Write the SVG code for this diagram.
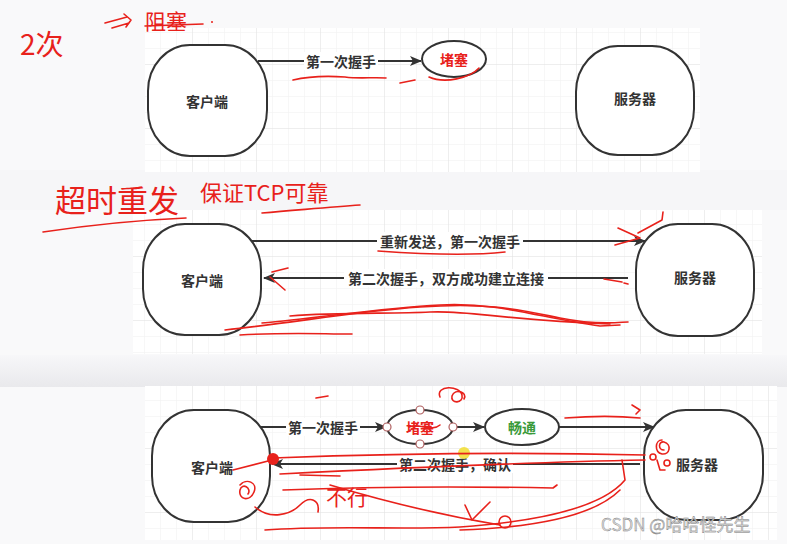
<svg xmlns="http://www.w3.org/2000/svg" width="787" height="544" viewBox="0 0 787 544">
<defs>
<pattern id="gridMinor" width="16" height="16" patternUnits="userSpaceOnUse">
<path d="M16 0H0V16" fill="none" stroke="#efefef" stroke-width="1"/>
</pattern>
<pattern id="gridMajor" width="64" height="64" patternUnits="userSpaceOnUse">
<rect width="64" height="64" fill="url(#gridMinor)"/>
<path d="M64 0H0V64" fill="none" stroke="#e3e3e3" stroke-width="1"/>
</pattern>
<marker id="arrow" markerWidth="12" markerHeight="10" refX="11" refY="5" orient="auto" markerUnits="userSpaceOnUse">
<path d="M0,0 L12,5 L0,10 L3,5 Z" fill="#333"/>
</marker>
<linearGradient id="band" x1="0" y1="0" x2="0" y2="1">
<stop offset="0" stop-color="#f7f7f9"/>
<stop offset="1" stop-color="#e9e9ec"/>
</linearGradient>
</defs>
<style>
.node{fill:#fff;stroke:#333;stroke-width:2}
.edge{fill:none;stroke:#333;stroke-width:2}
.t{font-family:"Noto Sans CJK SC","Liberation Sans",sans-serif;font-size:14px;font-weight:bold;fill:#333;text-anchor:middle;dominant-baseline:central}
.lbl{fill:#fff}
.red{fill:none;stroke:#e8211b;stroke-width:1.6;stroke-linecap:round;stroke-linejoin:round}
.hw{font-family:"Noto Sans CJK SC",sans-serif;fill:#e8211b;font-weight:normal}
.handle{fill:#fff;stroke:#b06060;stroke-width:1.2}
</style>

<!-- background -->
<rect width="787" height="544" fill="#f9f9fa"/>
<rect x="0" y="355" width="787" height="32" fill="url(#band)"/>
<rect x="0" y="170" width="787" height="40" fill="#f6f6f8"/>

<!-- grid panels -->
<rect x="145" y="28" width="555" height="144" fill="#fff"/>
<rect x="145" y="28" width="555" height="144" fill="url(#gridMajor)"/>
<rect x="133" y="210" width="629" height="144" fill="#fff"/>
<rect x="133" y="210" width="629" height="144" fill="url(#gridMajor)"/>
<rect x="145" y="386" width="632" height="154" fill="#fff"/>
<rect x="145" y="386" width="632" height="154" fill="url(#gridMajor)"/>

<!-- connectors -->
<g id="connectors">
<path class="edge" d="M258 61 H421" marker-end="url(#arrow)"/>
<path class="edge" d="M252 241 H645" marker-end="url(#arrow)"/>
<path class="edge" d="M628 278 H264" marker-end="url(#arrow)"/>
<path class="edge" d="M260 427 H386" marker-end="url(#arrow)"/>
<path class="edge" d="M453 427 H484" marker-end="url(#arrow)"/>
<path class="edge" d="M559 427 H654" marker-end="url(#arrow)"/>
<path class="edge" d="M640 464 H272" marker-end="url(#arrow)"/>
<rect class="lbl" x="304" y="52" width="74" height="18"/>
<text class="t" x="341" y="61">第一次握手</text>
<rect class="lbl" x="377" y="232" width="146" height="18"/>
<text class="t" x="450" y="241">重新发送，第一次握手</text>
<rect class="lbl" x="344" y="269" width="204" height="18"/>
<text class="t" x="446" y="278">第二次握手，双方成功建立连接</text>
<rect class="lbl" x="286" y="418" width="74" height="18"/>
<text class="t" x="323" y="427">第一次握手</text>
<rect class="lbl" x="397" y="455" width="116" height="18"/>
<text class="t" x="455" y="464">第二次握手，确认</text>
</g>

<!-- panel 1 nodes -->
<g id="client1"><rect class="node" x="148" y="45" width="119" height="111" rx="42" ry="46"/><text class="t" x="207" y="101">客户端</text></g>
<g id="block1"><ellipse class="node" cx="454" cy="59" rx="32" ry="18"/><text class="t" x="454" y="59" style="fill:#e8211b">堵塞</text></g>
<g id="server1"><rect class="node" x="576" y="46" width="118" height="109" rx="42" ry="46"/><text class="t" x="635" y="98">服务器</text></g>

<!-- panel 2 nodes -->
<g id="client2"><rect class="node" x="143" y="224" width="118" height="111" rx="42" ry="46"/><text class="t" x="202" y="280">客户端</text></g>
<g id="server2"><rect class="node" x="636" y="224" width="118" height="112" rx="42" ry="46"/><text class="t" x="695" y="277">服务器</text></g>

<!-- panel 3 nodes -->
<g id="client3"><rect class="node" x="152" y="410" width="118" height="112" rx="42" ry="46"/><text class="t" x="212" y="467">客户端</text></g>
<g id="block3"><ellipse class="node" cx="420" cy="427" rx="33" ry="17"/><text class="t" x="420" y="427" style="fill:#e8211b">堵塞</text>
<circle class="handle" cx="387" cy="427" r="4"/><circle class="handle" cx="453" cy="427" r="4"/><circle class="handle" cx="420" cy="410" r="4"/><circle class="handle" cx="420" cy="444" r="4"/></g>
<g id="smooth3"><ellipse class="node" cx="522" cy="427" rx="37" ry="18"/><text class="t" x="522" y="427" style="fill:#3a9a3a">畅通</text></g>
<g id="server3"><rect class="node" x="644" y="410" width="119" height="110" rx="42" ry="46"/><text class="t" x="697" y="464">服务器</text></g>

<!-- cursor highlight -->
<circle cx="464" cy="453" r="6" fill="#f2df3a" opacity="0.9"/>

<!-- handwritten annotations -->
<g id="annotations">
<text class="hw" x="20" y="55" font-size="28">2次</text>
<path class="red" d="M105 23 L127 17 M112 28 L129 23 M124 14 L131 20 L126 27"/>
<text class="hw" x="145" y="29" font-size="21">阻塞</text>
<path class="red" d="M145 26 L203 24"/>
<circle cx="212" cy="22" r="1" fill="#e8211b"/>
<path class="red" d="M293 80 C310 76 330 76 345 77 C360 79 372 77 386 78"/>
<path class="red" d="M400 83 L415 80 M429 77 C445 84 470 78 479 68"/>

<text class="hw" x="55" y="212" font-size="31">超时重发</text>
<path class="red" d="M43 232 C90 225 140 220 186 218"/>
<text class="hw" x="200" y="201" font-size="22">保证TCP可靠</text>
<path class="red" d="M262 213 C300 210 330 207 360 205"/>
<path class="red" d="M378 251 C420 254 470 256 505 252"/>
<path class="red" d="M618 228 L640 238 L615 245 M638 233 L662 220 L663 212"/>
<path class="red" d="M272 272 L288 268 M270 277 L285 290"/>
<path class="red" d="M604 279 L622 282 M624 283 L628 284"/>
<path class="red" d="M225 330 C300 322 350 312 420 307 S520 310 560 318 S620 322 628 322"/>
<path class="red" d="M262 323 C320 318 380 308 440 305 S540 318 600 326 L620 325"/>
<path class="red" d="M290 316 C340 312 390 314 430 312 S500 320 610 324"/>
<path class="red" d="M240 335 C290 332 320 334 352 334"/>

<path class="red" d="M316 398 L328 396"/>
<path class="red" d="M440 397 C435 385 460 385 462 395 C464 404 450 404 452 396 C455 388 468 392 464 399"/>
<path class="red" d="M409 427 C420 423 432 432 440 425"/>
<circle cx="273" cy="459" r="6" fill="#e8211b"/>
<path class="red" d="M273 458 C380 454 520 452 645 455"/>
<path class="red" d="M280 474 C400 468 540 462 645 460"/>
<path class="red" d="M233 470 L272 460"/>
<path class="red" d="M240 485 C246 478 258 482 254 492 C250 502 238 500 240 490 C242 482 252 488 248 494"/>
<path class="red" d="M283 490 C360 487 450 486 553 488 L557 485"/>
<path class="red" d="M300 475 L340 476"/>
<text class="hw" x="326" y="505" font-size="21">不行</text>
<path class="red" d="M330 485 C380 500 440 515 500 525"/>
<path class="red" d="M255 507 C270 520 290 515 300 505 C310 495 320 500 318 512"/>
<path class="red" d="M265 530 C330 525 400 530 460 527 C530 522 600 510 625 480 L622 460"/>
<path class="red" d="M460 530 C520 528 590 520 620 490"/>
<path class="red" d="M465 505 L472 520 L490 502"/>
<circle class="red" cx="505" cy="522" r="6"/>
<path class="red" d="M565 418 C590 416 620 416 640 418 M632 405 L640 410 L636 414"/>
<path class="red" d="M662 440 C655 440 654 452 662 454 C670 455 672 444 664 442 C658 441 658 450 664 450"/>
<circle class="red" cx="653" cy="457" r="3"/>
<circle class="red" cx="667" cy="463" r="3"/>
<path class="red" d="M657 460 L660 470 L665 470"/>
</g>

<!-- watermark -->
<text x="601" y="531" font-family="'Noto Sans CJK SC','Liberation Sans',sans-serif" font-size="17" fill="#dcdcdc" stroke="#777" stroke-width="0.4">CSDN @哈哈怪先生</text>
</svg>
